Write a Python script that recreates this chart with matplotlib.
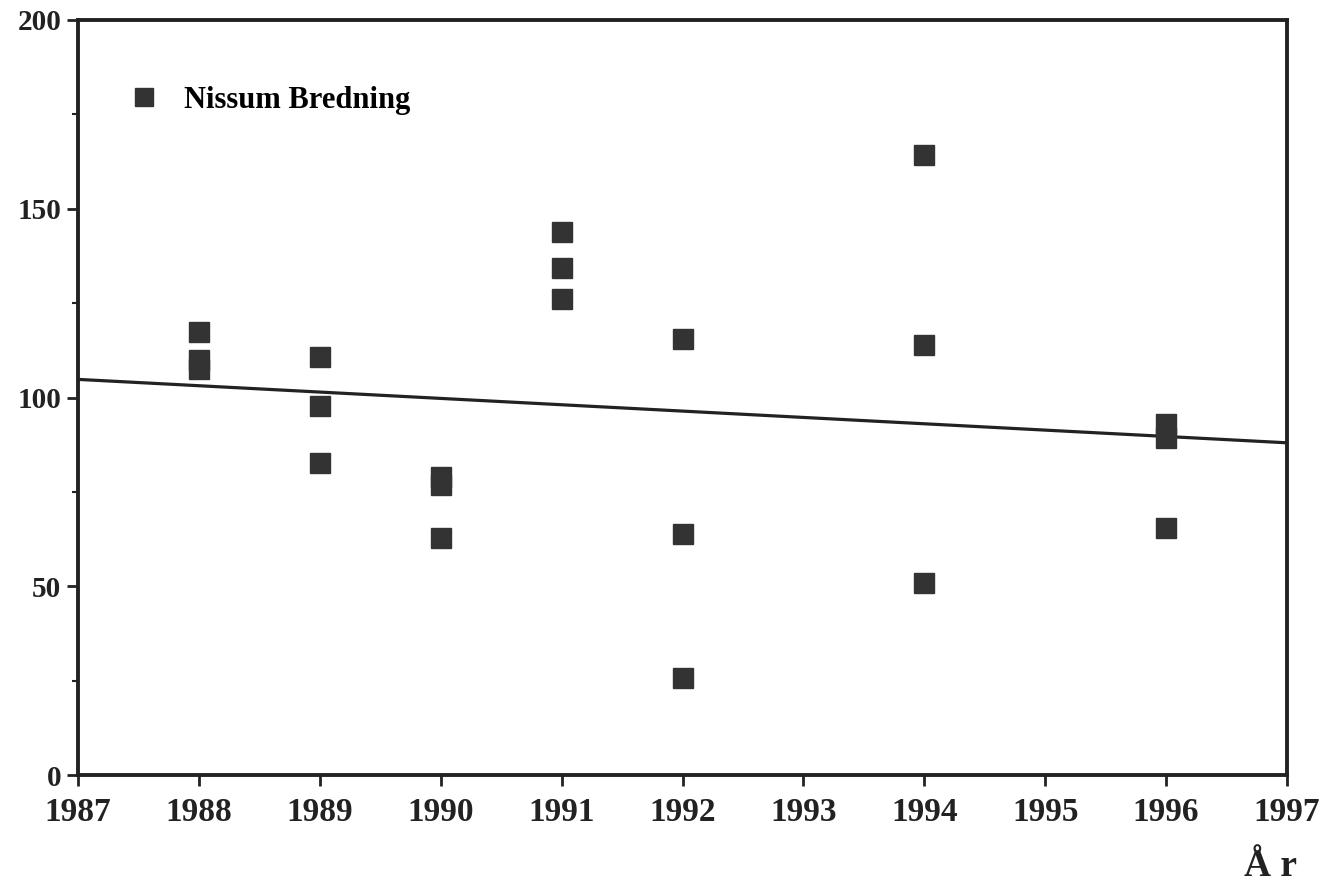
import matplotlib.pyplot as plt
from matplotlib.ticker import MultipleLocator

# Data
years = [1988, 1988, 1988,
         1989, 1989, 1989,
         1990, 1990, 1990,
         1991, 1991, 1991,
         1992, 1992, 1992,
         1994, 1994, 1994,
         1996, 1996, 1996]
values = [117.4, 109.9, 107.5,
          110.7, 97.7, 82.6,
          78.9, 76.8, 62.8,
          143.8, 134.3, 126.1,
          115.5, 63.8, 25.7,
          164.2, 114.0, 50.9,
          93.0, 89.3, 65.3]

# Trend line end points
trend_x = [1987, 1997]
trend_y = [104.8, 88.0]

x_ticks = list(range(1987, 1998))
y_ticks = [0, 50, 100, 150, 200]

plt.rcParams['font.family'] = ['Liberation Serif', 'DejaVu Serif']
plt.rcParams['font.weight'] = 'bold'

fig = plt.figure(figsize=(13.27, 8.91), dpi=100)
ax = fig.add_axes([78 / 1327, 116 / 891, 1209 / 1327, 755 / 891])

ax.plot(trend_x, trend_y, color='#222222', lw=2.3, zorder=2)
ax.plot(years, values, linestyle='none', marker='s', markersize=14,
        color='#333333', label='Nissum Bredning', zorder=3)

ax.set_xlim(1987, 1997)
ax.set_ylim(0, 200)
ax.set_xticks(x_ticks)
ax.set_yticks(y_ticks)
ax.yaxis.set_minor_locator(MultipleLocator(25))

for s in ax.spines.values():
    s.set_linewidth(2.8)
    s.set_color('#222222')

ax.tick_params(axis='x', which='major', direction='out', length=8, width=2,
               labelsize=24, pad=8, colors='#222222')
ax.tick_params(axis='y', which='major', direction='out', length=8, width=2,
               labelsize=21, pad=4, colors='#222222')
ax.tick_params(axis='y', which='minor', direction='out', length=4, width=1.5,
               colors='#222222')
for lab in ax.get_xticklabels() + ax.get_yticklabels():
    lab.set_fontweight('bold')

leg = ax.legend(loc='center left', bbox_to_anchor=(0.0447, 0.894),
                frameon=False, numpoints=1, handlelength=0.8,
                handletextpad=0.9, borderpad=0, borderaxespad=0,
                prop={'size': 22, 'weight': 'bold'})
leg.legend_handles[0].set_markersize(12.5)

fig.text(1271 / 1327, 1 - 866 / 891, 'Å r', fontsize=27, fontweight='bold',
         ha='center', va='center', color='#222222')

fig.savefig('out.png', dpi=100)
